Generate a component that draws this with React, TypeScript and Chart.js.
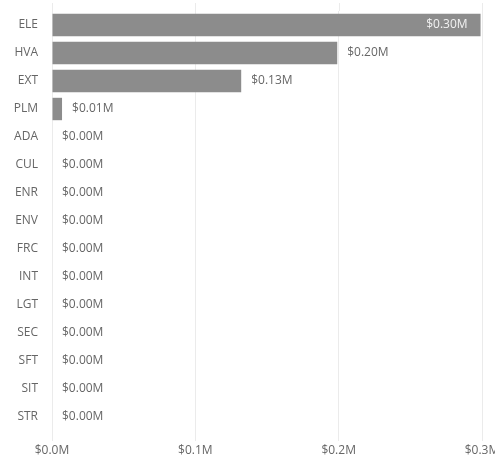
import React, { useEffect, useRef } from "react";
import { Chart, registerables } from "chart.js";

Chart.register(...registerables);

const categories = ["ELE", "HVA", "EXT", "PLM", "ADA", "CUL", "ENR", "ENV", "FRC", "INT", "LGT", "SEC", "SFT", "SIT", "STR"];
const values = [0.299, 0.199, 0.132, 0.007, 0, 0, 0, 0, 0, 0, 0, 0, 0, 0, 0];
const xTicks = [0, 0.1, 0.2, 0.3];

const FONT = "'Open Sans', 'DejaVu Sans', sans-serif";
const GRID = "#ebebeb";

const gridTop = {
  id: "gridTop",
  beforeDatasetsDraw(chart: any) {
    const ctx = chart.ctx;
    const xs = chart.scales.x;
    const top = chart.chartArea.top;
    ctx.save();
    ctx.strokeStyle = GRID;
    ctx.lineWidth = 1;
    xTicks.forEach((v) => {
      const x = Math.round(xs.getPixelForValue(v)) + 0.5;
      ctx.beginPath();
      ctx.moveTo(x, 3);
      ctx.lineTo(x, top);
      ctx.stroke();
    });
    ctx.restore();
  },
};

const valueLabels = {
  id: "valueLabels",
  afterDatasetsDraw(chart: any) {
    const ctx = chart.ctx;
    const meta = chart.getDatasetMeta(0);
    const area = chart.chartArea;
    ctx.save();
    ctx.font = `12px ${FONT}`;
    ctx.textBaseline = "middle";
    meta.data.forEach((bar: any, i: number) => {
      const text = "$" + values[i].toFixed(2) + "M";
      const w = ctx.measureText(text).width;
      const end = bar.x;
      if (end + 10 + w > area.right) {
        ctx.fillStyle = "#f2f2f2";
        ctx.textAlign = "right";
        ctx.fillText(text, end - 13, bar.y);
      } else {
        ctx.fillStyle = "#666666";
        ctx.textAlign = "left";
        ctx.fillText(text, end + 10, bar.y);
      }
    });
    ctx.restore();
  },
};

export default function App() {
  const ref = useRef<HTMLCanvasElement>(null);
  useEffect(() => {
    document.body.style.margin = "0";
    const chart = new Chart(ref.current!, {
      type: "bar",
      data: {
        labels: categories,
        datasets: [
          {
            data: values,
            backgroundColor: "#8c8c8c",
            barPercentage: 0.8,
            categoryPercentage: 1,
          },
        ],
      },
      options: {
        indexAxis: "y",
        animation: false,
        responsive: false,
        maintainAspectRatio: false,
        layout: { padding: { top: 11, right: 13, left: 0, bottom: 0 } },
        plugins: { legend: { display: false }, tooltip: { enabled: false } },
        scales: {
          x: {
            min: 0,
            max: 0.3,
            afterBuildTicks(scale: any) {
              scale.ticks = xTicks.map((v) => ({ value: v }));
            },
            afterFit(scale: any) {
              scale.paddingLeft = 0;
              scale.paddingRight = 0;
              scale.height = 30;
            },
            grid: { color: GRID, drawTicks: true, tickLength: 10 },
            border: { display: false },
            ticks: {
              padding: 2,
              color: "#666666",
              font: { family: FONT, size: 12 },
              maxRotation: 0,
              callback: (v: any) => "$" + Number(v).toFixed(1) + "M",
            },
          },
          y: {
            afterFit(scale: any) {
              scale.width = 52;
              scale.paddingTop = 0;
              scale.paddingBottom = 0;
            },
            grid: { display: false, drawTicks: false },
            border: { display: false },
            ticks: {
              padding: 14,
              color: "#666666",
              font: { family: FONT, size: 12 },
            },
          },
        },
      },
      plugins: [gridTop, valueLabels],
    } as any);
    return () => chart.destroy();
  }, []);
  return <canvas ref={ref} width={495} height={461} style={{ display: "block" }} />;
}
